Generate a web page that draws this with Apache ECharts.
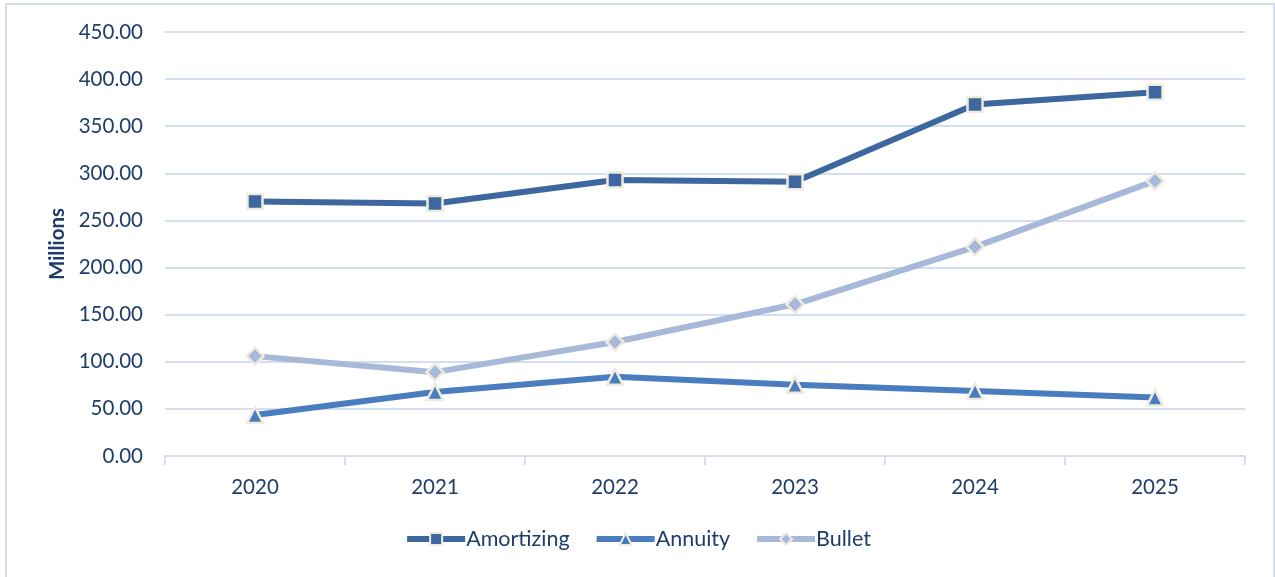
<!DOCTYPE html>
<html><head><meta charset="utf-8">
<script src="https://cdn.jsdelivr.net/npm/echarts@6/dist/echarts.min.js"></script>
<style>html,body{margin:0;padding:0;background:#fff;}#c{width:1275px;height:577px;}</style>
</head><body><div id="c"></div>
<script>
const categories = ['2020','2021','2022','2023','2024','2025'];
const amortizing = [270, 268, 293, 291, 373, 386];
const annuity = [43.5, 68, 84, 75.5, 69, 62];
const bullet = [106, 89, 121, 161, 222, 292];
const yTicks = {min: 0, max: 450, interval: 50};

const font = 'Lato, "Open Sans", sans-serif';
const textColor = '#1f3d6b';
const markBorder = '#eeebdf';
function s(name, data, color, symbol, size) {
  return {
    name, type: 'line', data, symbol, symbolSize: size,
    lineStyle: {color, width: 6},
    itemStyle: {color, borderColor: markBorder, borderWidth: 2.5},
    emphasis: {disabled: true}
  };
}
const chart = echarts.init(document.getElementById('c'));
chart.setOption({
  animation: false,
  grid: {left: 165, right: 30, top: 32, bottom: 121},
  legend: {
    bottom: 22, left: 'center', itemWidth: 58, itemHeight: 15, itemGap: 24,
    lineStyle: {width: 6},
    textStyle: {fontFamily: font, fontSize: 21.5, color: textColor, padding: [0,0,0,-4]},
    data: ['Amortizing','Annuity','Bullet']
  },
  xAxis: {
    type: 'category', data: categories, boundaryGap: true,
    axisLine: {lineStyle: {color: '#d3dff0', width: 2}},
    axisTick: {show: true, length: 9, lineStyle: {color: '#d3dff0', width: 2}},
    axisLabel: {fontFamily: font, fontSize: 20.5, color: textColor, margin: 21}
  },
  yAxis: {
    type: 'value', min: yTicks.min, max: yTicks.max, interval: yTicks.interval,
    name: 'Millions', nameLocation: 'middle', nameGap: 95, nameRotate: 90,
    nameTextStyle: {fontFamily: font, fontSize: 20.5, fontWeight: 'bold', color: textColor},
    axisLine: {show: false}, axisTick: {show: false},
    axisLabel: {fontFamily: font, fontSize: 20.5, color: textColor, margin: 22,
      formatter: v => v.toFixed(2)},
    splitLine: {lineStyle: {color: '#d3dff0', width: 2}}
  },
  series: [
    s('Amortizing', amortizing, '#3d679e', 'rect', 15),
    s('Annuity', annuity, '#4a7dbf', 'triangle', 16),
    s('Bullet', bullet, '#a7b8d9', 'diamond', 17)
  ],
  graphic: [
    {type: 'polyline', shape: {points: [[6,577],[6,4],[1274,4],[1274,577]]},
     style: {stroke: '#d3dff0', lineWidth: 2, fill: null}, silent: true}
  ]
});
</script></body></html>
